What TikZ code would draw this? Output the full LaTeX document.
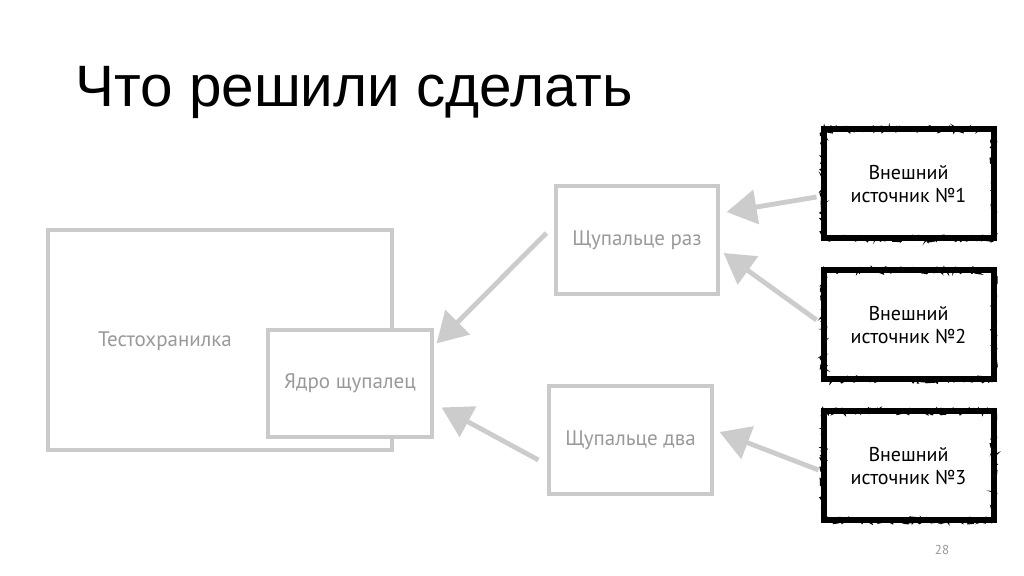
\documentclass[tikz,border=0pt]{standalone}
\usepackage{fontspec}
\setmainfont{PT Sans}
\newfontfamily\titlefont{Liberation Sans}
\usetikzlibrary{arrows.meta,decorations.pathmorphing}
\definecolor{boxgray}{HTML}{CACACA}
\definecolor{txtgray}{HTML}{9A9A9A}
\definecolor{arrgray}{HTML}{CCCCCC}
\begin{document}
\begin{tikzpicture}[x=0.5pt,y=-0.5pt,
  graybox/.style={draw=boxgray,line width=1.6pt,fill=white,inner sep=0pt,
     font=\fontsize{10.5pt}{12pt}\selectfont,text=txtgray},
  extbox/.style={fill=white,inner sep=0pt,align=center,
     font=\fontsize{10pt}{11.5pt}\selectfont,text=black,
     draw=black,line width=3pt,
     preaction={draw=black,line width=0.9pt,decorate,
       decoration={random steps,segment length=1.5pt,amplitude=1.5pt}},
     postaction={draw=black,line width=0.5pt,decorate,
       decoration={random steps,segment length=1.2pt,amplitude=1.8pt}}},
  conn/.style={draw=arrgray,line width=2.4pt,
     -{Triangle[length=15pt,width=17pt]}}]
\pgfmathsetseed{7}
\useasboundingbox[fill=white] (0,0) rectangle (1024,576);
\node[anchor=base west,inner sep=0pt,font=\titlefont\fontsize{29.2pt}{34pt}\selectfont] (title) at (75,107) {Что решили сделать};
% left boxes
\node[graybox,minimum width=172pt,minimum height=110pt] (test) at (220,340) {};
\node[inner sep=0pt,font=\fontsize{10.5pt}{12pt}\selectfont,text=txtgray] (testlbl) at (165,341) {Тестохранилка};
\node[graybox,minimum width=82pt,minimum height=53.5pt] (yadro) at (350,383.5) {Ядро щупалец};
\node[graybox,minimum width=81pt,minimum height=54pt] (raz) at (637,240) {Щупальце раз};
\node[graybox,minimum width=81.5pt,minimum height=54pt] (dva) at (630.5,440) {Щупальце два};
% external sources
\node[extbox,minimum width=85pt,minimum height=54.5pt] (e1) at (908.5,184) {Внешний\\источник №1};
\node[extbox,minimum width=85pt,minimum height=54.5pt] (e2) at (908.5,325) {Внешний\\источник №2};
\node[extbox,minimum width=85pt,minimum height=54.5pt] (e3) at (908.5,466) {Внешний\\источник №3};
% arrows
\draw[conn] ([xshift=-2pt,yshift=-6.5pt]e1.west) -- ([xshift=3.5pt,yshift=14pt]raz.east);
\draw[conn] ([xshift=-2pt,yshift=2.5pt]e2.west) -- ([xshift=2pt,yshift=-6.5pt]raz.east);
\draw[conn] ([xshift=-1pt,yshift=-2pt]e3.west) -- ([xshift=3pt,yshift=4pt]dva.east);
\draw[conn] ([xshift=-4pt,yshift=3.5pt]raz.west) -- ([xshift=1.5pt,yshift=-7.5pt]yadro.north east);
\draw[conn] ([xshift=-4.5pt,yshift=-10pt]dva.west) -- ([xshift=4pt,yshift=-12pt]yadro.east);
\node[inner sep=0pt,font=\fontsize{6.5pt}{8pt}\selectfont,text=txtgray] (page) at (942,550) {28};
\end{tikzpicture}
\end{document}
